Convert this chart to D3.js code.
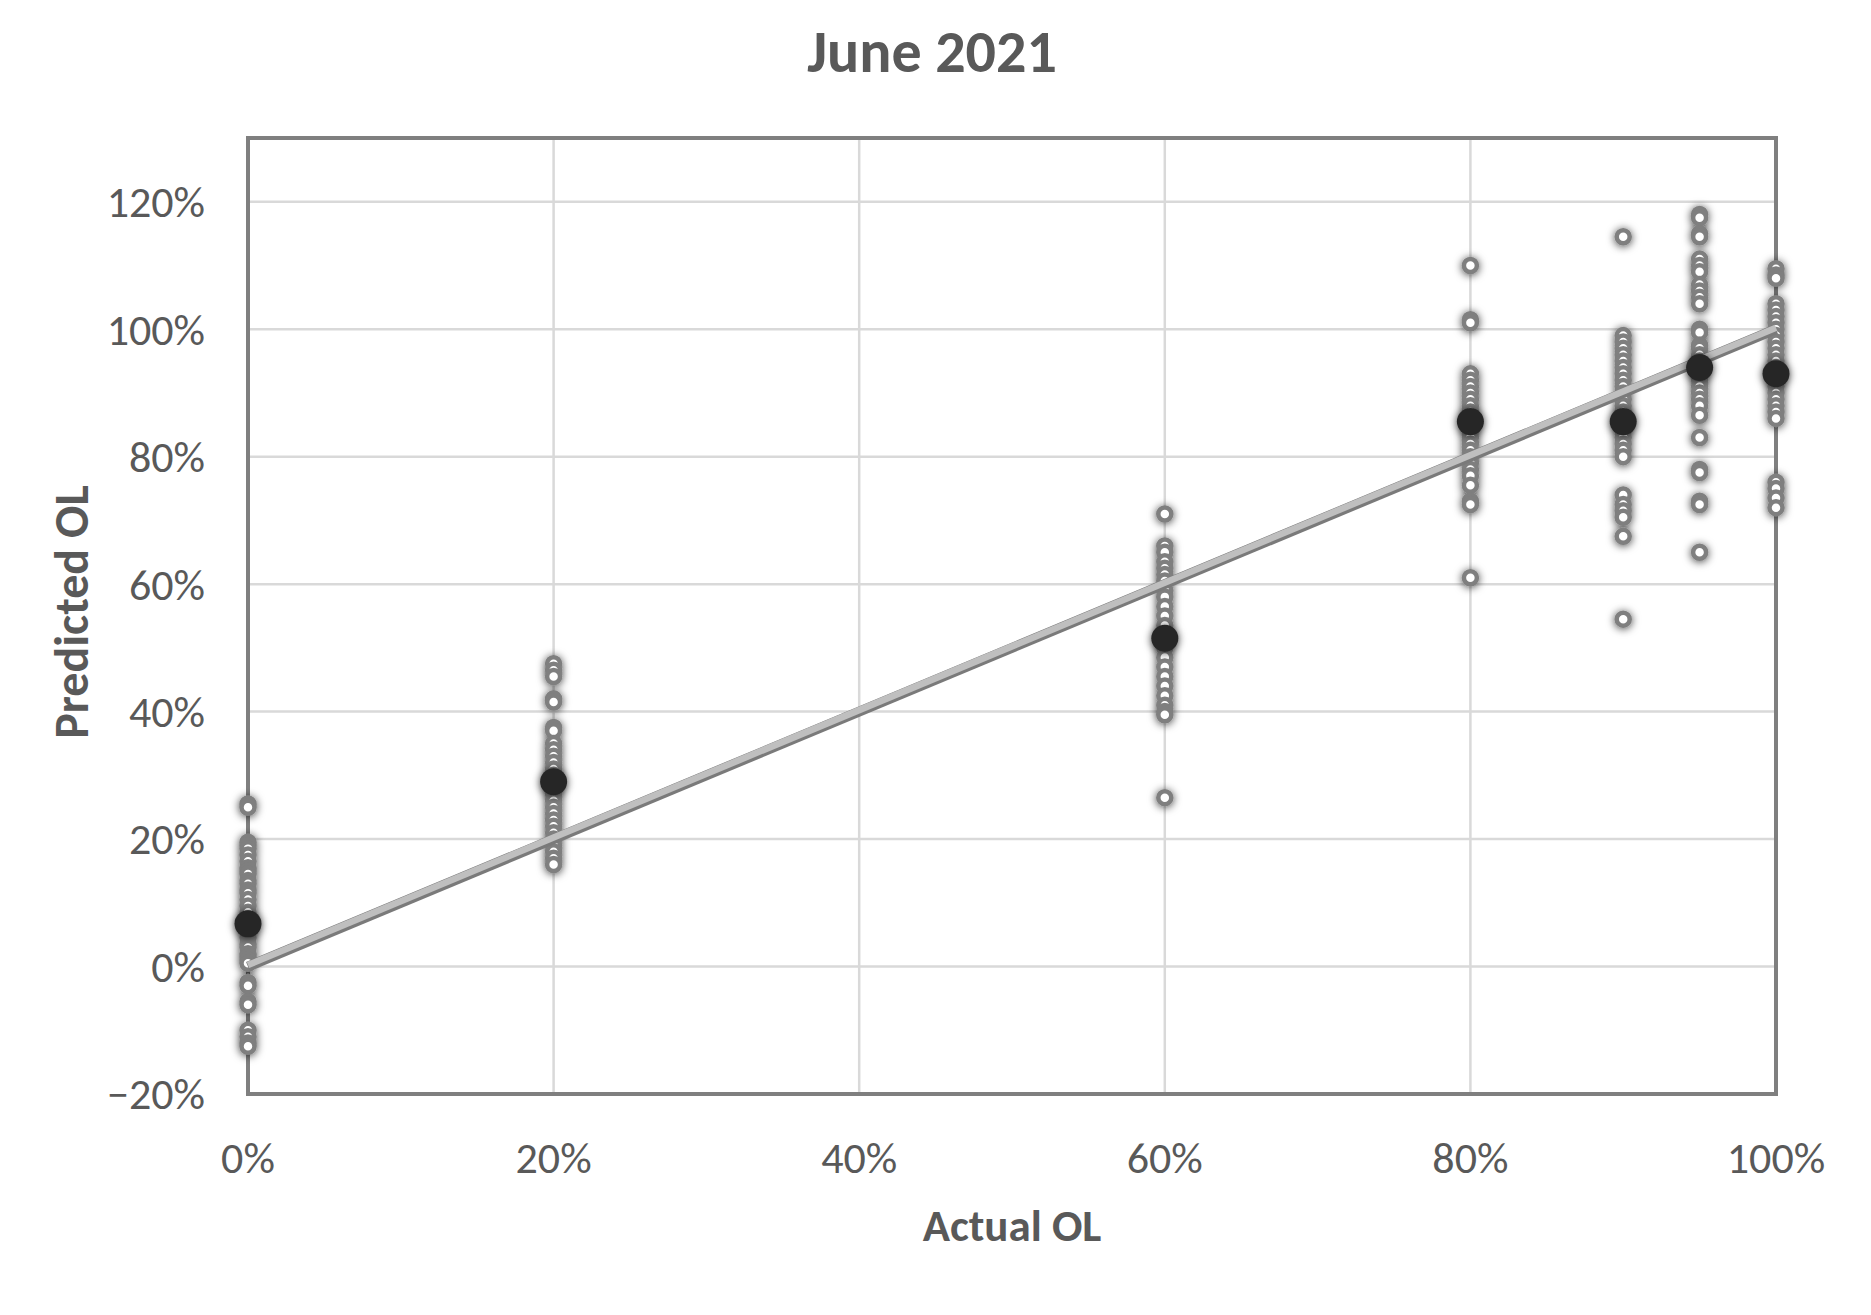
<!DOCTYPE html>
<html>
<head>
<meta charset="utf-8">
<script src="https://cdn.jsdelivr.net/npm/d3@7"></script>
<style>
  body { margin: 0; background: #fff; }
  text { font-family: Carlito, "Liberation Sans Narrow", "Open Sans", sans-serif; fill: #595959; }
</style>
</head>
<body>
<svg id="chart" width="1871" height="1315"></svg>
<script>
// actual OL levels and predicted OL readings at each level
var actualLevels = [0, 0.2, 0.6, 0.8, 0.9, 0.95, 1.0];

var predicted0 = [0.255, 0.25, 0.195, 0.19, 0.185, 0.175, 0.165, 0.155, 0.15, 0.145, 0.135, 0.13,
  0.12, 0.115, 0.105, 0.095, 0.085, 0.075, 0.065, 0.055, 0.045, 0.035, 0.03, 0.02, 0.015, 0.01,
  0.005, -0.025, -0.03, -0.055, -0.06, -0.1, -0.11, -0.12, -0.125];
var predicted20 = [0.475, 0.465, 0.455, 0.42, 0.415, 0.375, 0.37, 0.35, 0.34, 0.33, 0.32, 0.31,
  0.3, 0.29, 0.28, 0.27, 0.26, 0.25, 0.24, 0.23, 0.22, 0.21, 0.2, 0.19, 0.18, 0.17, 0.16];
var predicted60 = [0.71, 0.66, 0.65, 0.635, 0.625, 0.615, 0.605, 0.59, 0.58, 0.565, 0.55, 0.535,
  0.515, 0.5, 0.485, 0.47, 0.455, 0.44, 0.425, 0.41, 0.4, 0.395, 0.265];
var predicted80 = [1.10, 1.015, 1.01, 0.93, 0.92, 0.91, 0.9, 0.89, 0.88, 0.87, 0.86, 0.85, 0.84,
  0.83, 0.82, 0.81, 0.8, 0.79, 0.78, 0.77, 0.755, 0.73, 0.725, 0.61];
var predicted90 = [1.145, 0.99, 0.98, 0.97, 0.96, 0.95, 0.94, 0.93, 0.92, 0.91, 0.9, 0.89, 0.88,
  0.87, 0.86, 0.85, 0.84, 0.83, 0.82, 0.81, 0.8, 0.74, 0.725, 0.715, 0.705, 0.675, 0.545];
var predicted95 = [1.18, 1.175, 1.15, 1.145, 1.11, 1.10, 1.09, 1.07, 1.06, 1.05, 1.04, 1.0, 0.995,
  0.975, 0.97, 0.96, 0.95, 0.94, 0.93, 0.92, 0.91, 0.9, 0.89, 0.88, 0.865, 0.83, 0.78, 0.775,
  0.73, 0.725, 0.65];
var predicted100 = [1.095, 1.085, 1.08, 1.04, 1.03, 1.02, 1.01, 1.0, 0.99, 0.98, 0.97, 0.96, 0.95,
  0.94, 0.93, 0.92, 0.91, 0.9, 0.89, 0.88, 0.87, 0.86, 0.76, 0.75, 0.735, 0.72];

var meanPredicted = [0.067, 0.29, 0.515, 0.855, 0.855, 0.94, 0.93];

var xTicks = [0, 0.2, 0.4, 0.6, 0.8, 1.0];
var yTicks = [-0.2, 0, 0.2, 0.4, 0.6, 0.8, 1.0, 1.2];

var predictedByLevel = [predicted0, predicted20, predicted60, predicted80,
  predicted90, predicted95, predicted100];

var margin = {left: 248, right: 95, top: 138, bottom: 221};
var width = 1871, height = 1315;

var svg = d3.select("#chart");

var x = d3.scaleLinear().domain([0, 1]).range([margin.left, width - margin.right]);
var y = d3.scaleLinear().domain([-0.2, 1.3]).range([height - margin.bottom, margin.top]);
var pct = d3.format(".0%");

var defs = svg.append("defs");
var glow = defs.append("filter").attr("id", "glow")
    .attr("x", "-100%").attr("y", "-100%").attr("width", "300%").attr("height", "300%");
glow.append("feDropShadow")
    .attr("dx", 0).attr("dy", 1)
    .attr("stdDeviation", 4)
    .attr("flood-color", "#000")
    .attr("flood-opacity", 0.75);

// gridlines
svg.append("g").selectAll("line.h")
    .data(yTicks)
  .enter().append("line")
    .attr("x1", x(0)).attr("x2", x(1))
    .attr("y1", function (d) { return y(d); })
    .attr("y2", function (d) { return y(d); })
    .attr("stroke", "#d9d9d9")
    .attr("stroke-width", 2.5);

svg.append("g").selectAll("line.v")
    .data(xTicks)
  .enter().append("line")
    .attr("x1", function (d) { return x(d); })
    .attr("x2", function (d) { return x(d); })
    .attr("y1", y(1.3)).attr("y2", y(-0.2))
    .attr("stroke", "#d9d9d9")
    .attr("stroke-width", 2.5);

// plot border
svg.append("rect")
    .attr("x", x(0)).attr("y", y(1.3))
    .attr("width", x(1) - x(0))
    .attr("height", y(-0.2) - y(1.3))
    .attr("fill", "none")
    .attr("stroke", "#7f7f7f")
    .attr("stroke-width", 4);

// tick labels
svg.append("g").selectAll("text")
    .data(yTicks)
  .enter().append("text")
    .attr("x", 205)
    .attr("y", function (d) { return y(d); })
    .attr("dy", "0.35em")
    .attr("text-anchor", "end")
    .style("font-size", "44px")
    .text(pct);

svg.append("g").selectAll("text")
    .data(xTicks)
  .enter().append("text")
    .attr("x", function (d) { return x(d); })
    .attr("y", 1158)
    .attr("dy", "0.35em")
    .attr("text-anchor", "middle")
    .style("font-size", "44px")
    .text(pct);

// observations
var points = [];
predictedByLevel.forEach(function (vals, i) {
  vals.forEach(function (v) { points.push({actual: actualLevels[i], predicted: v}); });
});

svg.append("g").attr("filter", "url(#glow)").selectAll("circle")
    .data(points)
  .enter().append("circle")
    .attr("cx", function (d) { return x(d.actual); })
    .attr("cy", function (d) { return y(d.predicted); })
    .attr("r", 6.5)
    .attr("fill", "#fff")
    .attr("stroke", "#7f7f7f")
    .attr("stroke-width", 4.5);

// ideal y = x line
svg.append("line")
    .attr("x1", x(0)).attr("y1", y(0))
    .attr("x2", x(1)).attr("y2", y(1))
    .attr("stroke", "#7a7a7a")
    .attr("stroke-width", 10);
svg.append("line")
    .attr("x1", x(0)).attr("y1", y(0) - 1.5)
    .attr("x2", x(1)).attr("y2", y(1) - 1.5)
    .attr("stroke", "#bfbfbf")
    .attr("stroke-width", 6.5);

// mean predicted per level
svg.append("g").attr("filter", "url(#glow)").selectAll("circle")
    .data(meanPredicted)
  .enter().append("circle")
    .attr("cx", function (d, i) { return x(actualLevels[i]); })
    .attr("cy", function (d) { return y(d); })
    .attr("r", 13.5)
    .attr("fill", "#262626");

// titles
svg.append("text")
    .attr("x", 932).attr("y", 72)
    .attr("text-anchor", "middle")
    .style("font-size", "60px")
    .style("font-weight", "bold")
    .text("June 2021");

svg.append("text")
    .attr("x", 1012).attr("y", 1241)
    .attr("text-anchor", "middle")
    .style("font-size", "45px")
    .style("font-weight", "bold")
    .text("Actual OL");

svg.append("text")
    .attr("transform", "translate(88,612) rotate(-90)")
    .attr("text-anchor", "middle")
    .style("font-size", "48px")
    .style("font-weight", "bold")
    .text("Predicted OL");
</script>
</body>
</html>
